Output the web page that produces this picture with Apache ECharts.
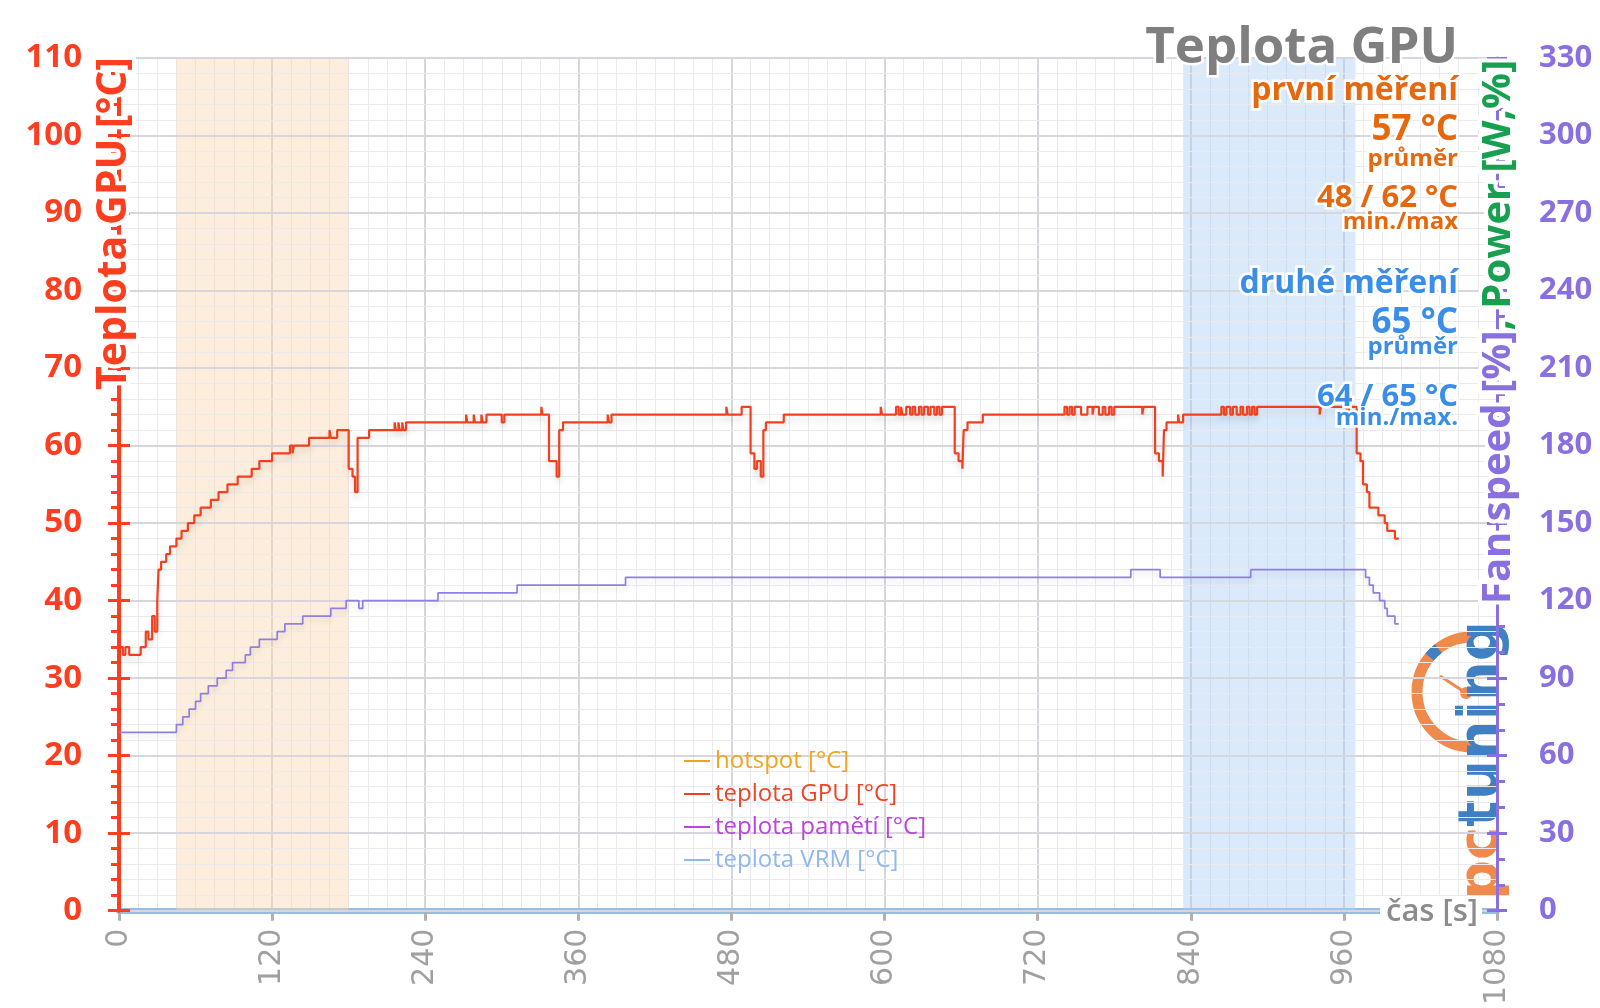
<!DOCTYPE html>
<html><head><meta charset="utf-8">
<script src="https://cdn.jsdelivr.net/npm/echarts@6/dist/echarts.min.js"></script>
<style>html,body{margin:0;padding:0;background:#fff}#c{width:1600px;height:1008px}</style>
</head><body><div id="c"></div>
<script>
// ---- data (time in seconds, temperature in °C) ----
const gpuTime = [0,3,5,8,17,21,23,26,28,30,31,33,37,40,45,49,54,59,64,72,78,85,93,104,110,120,134,136,137,149,165,166,171,180,183,185,187,196,216,217,219,220,222,223,225,272,273,278,279,284,285,288,300,302,331,332,337,343,345,348,383,384,386,476,477,488,495,498,500,503,505,507,521,597,598,609,611,613,614,617,620,622,624,627,629,631,634,636,639,641,643,645,655,658,661,662,665,677,741,743,745,747,749,754,759,763,764,768,771,773,776,778,780,802,803,812,815,818,819,821,830,831,834,864,866,868,871,873,876,879,881,884,886,888,890,892,941,942,962,964,970,973,975,978,980,987,992,994,1000,1003];
const gpuTemp = [34,33,34,33,34,36,35,38,36,40,44,45,46,47,48,49,50,51,52,53,54,55,56,57,58,59,60,59,60,61,62,61,62,57,56,54,61,62,63,62,63,62,63,62,63,64,63,64,63,64,63,64,63,64,65,64,58,56,62,63,64,63,64,65,64,65,59,57,58,56,62,63,64,65,64,65,64,65,64,65,64,65,64,65,64,65,64,65,64,65,64,65,59,58,57,62,63,64,65,64,65,64,65,64,65,64,65,64,65,64,65,64,65,64,65,59,58,56,62,63,64,63,64,65,64,65,64,65,64,65,64,65,64,65,64,65,64,65,64,65,59,58,55,54,52,51,50,49,48,48];
const vrmTime = [0,45,50,55,60,64,70,77,84,89,99,103,110,124,130,144,166,178,188,191,250,312,397,793,816,887,977,980,983,988,992,994,1000,1003];
const vrmTemp = [23,24,25,26,27,28,29,30,31,32,33,34,35,36,37,38,39,40,39,40,41,42,43,44,43,44,43,42,41,40,39,38,37,37];
const firstWindow = [45, 180];
const secondWindow = [834, 969];
const legendNames = ['hotspot [°C]', 'teplota GPU [°C]', 'teplota pamětí [°C]', 'teplota VRM [°C]'];
const legendColors = ['#f2a41e', '#ee4526', '#bb44e0', '#8fb8ec'];
const statsFirst = ['první měření', '57 °C', 'průměr', '48 / 62 °C', 'min./max'];
const statsSecond = ['druhé měření', '65 °C', 'průměr', '64 / 65 °C', 'min./max.'];

const RED = '#ff3d1f', PURPLE = '#8a6fe0', GREEN = '#17a050', GREYTXT = '#7f7f7f';
const ORANGE_T = '#e5670e', BLUE_T = '#3a8ee8';
const gpuData = gpuTime.map((t, i) => [t, gpuTemp[i]]);
const vrmData = vrmTime.map((t, i) => [t, vrmTemp[i]]);

const chart = echarts.init(document.getElementById('c'), null, {renderer: 'canvas'});

// text with a white halo: a white stroked copy underneath, coloured copy on top (own top layer)
function halo(base, w) {
  base.zlevel = 1; base.z = 100;
  const under = JSON.parse(JSON.stringify(base));
  under.z = 99;
  under.style.fill = '#fff'; under.style.stroke = '#fff'; under.style.lineWidth = w || 5;
  if (under.style.rich) {
    for (const k in under.style.rich) { under.style.rich[k].fill = '#fff'; under.style.rich[k].stroke = '#fff'; under.style.rich[k].lineWidth = w || 5; }
  }
  return [under, base];
}
function txt(text, x, y, size, color, weight, align) {
  return halo({type: 'text', x: x, y: y,
    style: {text: text, font: (weight || 'bold') + ' ' + size + 'px "Open Sans"', fill: color,
      textAlign: align || 'right', textVerticalAlign: 'middle'}}, 5);
}
const RX = 1458;
const graphics = [].concat(
  txt('Teplota GPU', RX, 48, 51, GREYTXT),
  txt(statsFirst[0], RX, 91, 32, ORANGE_T),
  txt(statsFirst[1], RX, 130, 35, ORANGE_T),
  txt(statsFirst[2], RX, 159, 24, ORANGE_T),
  txt(statsFirst[3], RX, 198, 31, ORANGE_T),
  txt(statsFirst[4], RX, 222, 24, ORANGE_T),
  txt(statsSecond[0], RX, 284, 32, BLUE_T),
  txt(statsSecond[1], RX, 323, 35, BLUE_T),
  txt(statsSecond[2], RX, 347, 24, BLUE_T),
  txt(statsSecond[3], RX, 397, 31, BLUE_T),
  txt(statsSecond[4], RX, 418, 24, BLUE_T),
  // left axis name
  halo({type: 'text', x: 114, y: 390, rotation: Math.PI / 2,
    style: {text: 'Teplota GPU [°C]', font: 'bold 41px "Open Sans"', fill: RED,
      textAlign: 'left', textVerticalAlign: 'middle'}}, 8),
  // right axis name
  halo({type: 'text', x: 1499, y: 604, rotation: Math.PI / 2,
    style: {text: '{a|Fan speed [%]}{b|, Power [W,%]}', font: 'bold 40px "Open Sans"',
      textAlign: 'left', textVerticalAlign: 'middle',
      rich: {a: {fill: PURPLE, font: 'bold 40px "Open Sans"'},
             b: {fill: GREEN, font: 'bold 40px "Open Sans"'}}}}, 8),
  // x axis name
  [{type: 'text', x: 1482, y: 912, zlevel: 1, z: 100,
    style: {text: 'čas [s]', font: '600 31px "Open Sans"', fill: '#8c8c8c', textAlign: 'right',
      textVerticalAlign: 'middle', backgroundColor: '#fff', padding: [0, 4, 0, 6]}}],
  // logo
  [{type: 'arc', z: 1, shape: {cx: 1472, cy: 692, r: 55, startAngle: Math.PI / 2, endAngle: Math.PI * 1.5},
    style: {stroke: '#f08a4c', lineWidth: 11, fill: null}},
  {type: 'arc', z: 1, shape: {cx: 1472, cy: 692, r: 55, startAngle: Math.PI * 1.22, endAngle: Math.PI * 1.29},
    style: {stroke: '#3f7fc2', lineWidth: 11, fill: null}},
  {type: 'line', z: 1, shape: {x1: 1440, y1: 676, x2: 1466, y2: 693}, style: {stroke: '#f08a4c', lineWidth: 3}},
  {type: 'circle', z: 1, shape: {cx: 1466, cy: 693, r: 6}, style: {fill: '#f08a4c'}},
  {type: 'text', x: 1482, y: 900, rotation: Math.PI / 2, z: 1,
    style: {text: '{a|pc}{b|tuning}', font: 'bold 56px "DejaVu Sans"', textAlign: 'left', textVerticalAlign: 'middle',
      rich: {a: {fill: '#f08a4c', font: 'bold 56px "DejaVu Sans"'}, b: {fill: '#3f7fc2', font: 'bold 56px "DejaVu Sans"'}}}}]
);

const gridLine = {show: true, lineStyle: {color: '#d6d6dc', width: 2}};
const minorGrid = {show: true, lineStyle: {color: '#e9e9ee', width: 1}};

const option = {
  backgroundColor: '#fff',
  animation: false,
  grid: {left: 119, right: 103, top: 58, bottom: 96, containLabel: false},
  legend: {
    orient: 'vertical', left: 679, top: 744, itemWidth: 26, itemHeight: 2, itemGap: 9, icon: 'rect',
    selectedMode: false,
    textStyle: {fontSize: 24, fontFamily: 'Open Sans'},
    data: legendNames.map((n, i) => ({name: n, textStyle: {color: legendColors[i]}}))
  },
  xAxis: {
    type: 'value', min: 0, max: 1080, interval: 120,
    axisLine: {show: true, lineStyle: {color: '#97bde3', width: 6}},
    axisTick: {show: true, length: 10, lineStyle: {color: '#b0b0b0', width: 3}},
    minorTick: {show: false, splitNumber: 8},
    axisLabel: {rotate: 90, fontFamily: 'DejaVu Sans', fontSize: 30, color: '#a0a0a0', margin: 18,
      formatter: v => String(v)},
    splitLine: gridLine, minorSplitLine: minorGrid
  },
  yAxis: [
    {type: 'value', position: 'left', min: 0, max: 110, interval: 10,
      axisLine: {show: true, lineStyle: {color: RED, width: 4}},
      axisTick: {show: true, inside: false, length: 11, lineStyle: {color: RED, width: 3}},
      minorTick: {show: true, splitNumber: 5, length: 8, lineStyle: {color: RED, width: 3}},
      axisLabel: {fontFamily: 'Open Sans', fontWeight: 'bold', fontSize: 33, color: RED, margin: 37},
      splitLine: gridLine, minorSplitLine: minorGrid, z: 2},
    {type: 'value', position: 'left', min: 0, max: 110, interval: 10,
      axisLine: {show: false}, axisLabel: {show: false}, splitLine: {show: false},
      axisTick: {show: true, inside: true, length: 11, lineStyle: {color: RED, width: 3}}, z: 2},
    {type: 'value', position: 'right', min: 0, max: 330, interval: 30,
      axisLine: {show: true, lineStyle: {color: PURPLE, width: 3}},
      axisTick: {show: true, inside: false, length: 10, lineStyle: {color: PURPLE, width: 3}},
      minorTick: {show: true, splitNumber: 3, length: 8, lineStyle: {color: PURPLE, width: 3}},
      axisLabel: {fontFamily: 'Open Sans', fontWeight: 'bold', fontSize: 31, color: PURPLE, margin: 42},
      splitLine: {show: false}, z: 3},
    {type: 'value', position: 'right', min: 0, max: 330, interval: 30,
      axisLine: {show: false}, axisLabel: {show: false}, splitLine: {show: false},
      axisTick: {show: true, inside: true, length: 10, lineStyle: {color: PURPLE, width: 3}}, z: 3}
  ],
  graphic: {elements: graphics},
  series: [
    {name: legendNames[0], type: 'line', data: [], color: legendColors[0], showSymbol: false},
    {name: legendNames[1], type: 'line', data: gpuData, color: '#f0401e', step: 'end', showSymbol: false,
      lineStyle: {width: 2.2, shadowColor: 'rgba(0,0,0,0.13)', shadowBlur: 6, shadowOffsetY: 5}, z: 4,
      markArea: {silent: true, data: [
        [{xAxis: firstWindow[0], itemStyle: {color: 'rgba(251,214,180,0.45)'}}, {xAxis: firstWindow[1]}],
        [{xAxis: secondWindow[0], itemStyle: {color: 'rgba(170,205,245,0.42)'}}, {xAxis: secondWindow[1]}]
      ]}},
    {name: legendNames[2], type: 'line', data: [], color: legendColors[2], showSymbol: false},
    {name: legendNames[3], type: 'line', data: [], color: legendColors[3], showSymbol: false},
    {name: 'VRM / power', type: 'line', data: vrmData, color: '#8d80e0', step: 'end', showSymbol: false,
      lineStyle: {width: 1.7, shadowColor: 'rgba(0,0,0,0.1)', shadowBlur: 5, shadowOffsetY: 4}, z: 3}
  ]
};
chart.setOption(option);
</script>
</body></html>
